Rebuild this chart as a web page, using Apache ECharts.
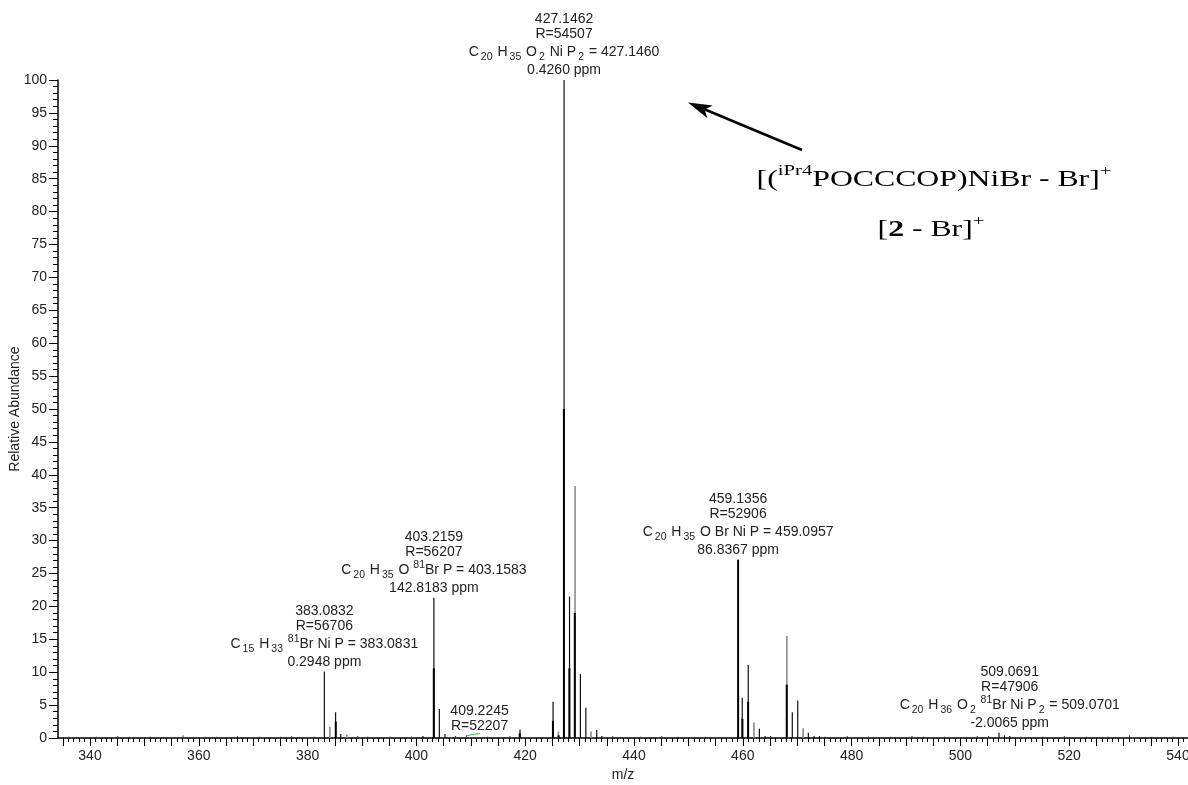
<!DOCTYPE html>
<html>
<head>
<meta charset="utf-8">
<script src="https://cdn.jsdelivr.net/npm/echarts@6/dist/echarts.min.js"></script>
<style>html,body{margin:0;padding:0;background:#fff}#c{width:1188px;height:785px}</style>
</head>
<body>
<div id="c"></div>
<script>
// ---------- data ----------
const xTickLabels = [340, 360, 380, 400, 420, 440, 460, 480, 500, 520, 540];
const yTickStep = 5;

// thin black sticks (m/z, relative abundance)
const thinMz = [383.08, 385.15, 386.1, 401.2, 403.22, 404.22, 405.25, 419.05, 425.12, 427.15, 428.15, 430.15, 431.15, 433.15, 434.1,
  459.9, 461.0, 463.05, 464.1, 465.1, 469.1, 470.1, 472.05, 473.1, 474.1, 507.1, 508.1, 509.07];
const thinVal = [10.1, 3.9, 0.6, 0.3, 21.3, 4.4, 0.6, 1.3, 5.5, 100, 21.5, 9.7, 4.6, 1.2, 0.3,
  6.1, 11.1, 1.4, 0.3, 0.3, 3.9, 5.7, 0.8, 0.3, 0.3, 0.8, 0.4, 0.3];

// thick black sticks
const thickMz = [385.18, 403.2, 419.0, 425.1, 426.15, 427.12, 428.12, 429.12, 459.14, 459.93, 460.98, 468.08];
const thickVal = [2.5, 10.6, 0.7, 2.6, 0.4, 50, 10.6, 19.0, 27.1, 2.9, 5.5, 8.1];

// gray sticks
const grayMz = [384.1, 387.2, 426.1, 429.17, 432.1, 462.05, 468.1, 471.1];
const grayVal = [1.7, 0.5, 1.0, 38.3, 1.0, 2.4, 15.5, 1.5];

// baseline noise sticks
const noiseMz = [336.1, 341.2, 345.1, 347.3, 351.0, 357.1, 361.2, 363.3, 367.1, 371.2, 375.0, 377.1, 381.2, 389.2, 391.1, 395.2,
  399.1, 407.2, 409.2, 413.1, 417.2, 436.1, 441.2, 445.1, 448.1, 453.2, 475.1, 479.2, 483.1, 487.2, 491.1, 493.2, 497.1,
  503.1, 505.2, 511.1, 515.2, 519.1, 523.2, 527.1, 531.1, 535.2, 539.1];
const noiseVal = [0.2, 0.2, 0.3, 0.2, 0.2, 0.4, 0.2, 0.2, 0.3, 0.2, 0.2, 0.3, 0.2, 0.3, 0.2, 0.2,
  0.2, 0.3, 0.4, 0.2, 0.3, 0.3, 0.2, 0.3, 0.2, 0.2, 0.2, 0.3, 0.2, 0.2, 0.3, 0.2, 0.2,
  0.3, 0.3, 0.2, 0.2, 0.3, 0.2, 0.2, 0.4, 0.2, 0.2];

// peak annotations
const annMz = [427.1462, 403.2159, 383.0832, 459.1356, 509.0691, 409.2245];
const annVal = [100, 21.3, 10.1, 27.1, 0.8, 0.4];
const annMass = ['427.1462', '403.2159', '383.0832', '459.1356', '509.0691', '409.2245'];
const annRes = ['R=54507', 'R=56207', 'R=56706', 'R=52906', 'R=47906', 'R=52207'];
const annFormula = [
  'C_{20} H_{35} O_{2} Ni P_{2} = 427.1460',
  'C_{20} H_{35} O ^{81}Br P = 403.1583',
  'C_{15} H_{33} ^{81}Br Ni P = 383.0831',
  'C_{20} H_{35} O Br Ni P = 459.0957',
  'C_{20} H_{36} O_{2} ^{81}Br Ni P_{2} = 509.0701',
  ''];
const annPpm = ['0.4260 ppm', '142.8183 ppm', '0.2948 ppm', '86.8367 ppm', '-2.0065 ppm', ''];

// ---------- build ----------
const FONT = '"Liberation Sans", Arial, sans-serif';
const SERIF = '"Liberation Serif", "Times New Roman", serif';
const xMin = 334.12, xMax = 541.84;

const majorTicks = [];
for (let v = 335; v <= 540; v += 5) majorTicks.push(v);
const minorTicks = [];
for (let v = 335; v <= 541; v += 1) minorTicks.push(v);

function pairs(ms, vs) { return ms.map((m, i) => [m, vs[i]]); }

function stickSeries(name, data, color, width) {
  return {
    name, type: 'custom', xAxisIndex: 0, yAxisIndex: 0, data,
    renderItem(params, api) {
      const p0 = api.coord([api.value(0), 0]);
      const p1 = api.coord([api.value(0), api.value(1)]);
      return { type: 'line', shape: { x1: p0[0], y1: p0[1], x2: p1[0], y2: p1[1] },
        style: { stroke: color, lineWidth: width } };
    },
    silent: true, z: 2
  };
}

function richify(s) {
  if (!s) return '';
  return s.split(/(_\{[^}]*\}|\^\{[^}]*\})/).filter(t => t.length).map(t => {
    if (t[0] === '_') return '{sub|' + t.slice(2, -1) + '}';
    if (t[0] === '^') return '{sup|' + t.slice(2, -1) + '}';
    return '{f|' + t + '}';
  }).join('');
}

const annData = annMz.map((m, i) => [m, annVal[i], i]);
const annShiftX = { 5: 13 };

const option = {
  animation: false,
  backgroundColor: '#fff',
  grid: { left: 58, right: 0, top: 80, bottom: 47, containLabel: false, outerBoundsMode: 'none' },
  xAxis: [{
    type: 'value', min: xMin, max: xMax,
    name: 'm/z', nameLocation: 'middle', nameGap: 30, nameMoveOverlap: false,
    nameTextStyle: { fontFamily: FONT, fontSize: 14, color: '#222' },
    axisLine: { show: true, onZero: false, lineStyle: { color: '#000', width: 1.5 } },
    axisTick: { show: true, length: 8, customValues: majorTicks, lineStyle: { color: '#000', width: 1 } },
    axisLabel: { customValues: xTickLabels, margin: 11, fontFamily: FONT, fontSize: 14, color: '#222' },
    splitLine: { show: false }
  }, {
    type: 'value', min: xMin, max: xMax, position: 'bottom', gridIndex: 0,
    axisLine: { show: false },
    axisTick: { show: true, length: 4, customValues: minorTicks, lineStyle: { color: '#000', width: 1 } },
    axisLabel: { show: false },
    splitLine: { show: false }
  }],
  yAxis: {
    type: 'value', min: 0, max: 100, interval: yTickStep,
    name: 'Relative Abundance', nameLocation: 'middle', nameGap: 36, nameMoveOverlap: false,
    nameTextStyle: { fontFamily: FONT, fontSize: 14, color: '#222' },
    axisLine: { show: true, lineStyle: { color: '#000', width: 1.5 } },
    axisTick: { show: true, length: 9, lineStyle: { color: '#000', width: 1 } },
    minorTick: { show: true, splitNumber: 5, length: 5, lineStyle: { color: '#000', width: 1 } },
    axisLabel: { margin: 11, fontFamily: FONT, fontSize: 14, color: '#222' },
    splitLine: { show: false }, minorSplitLine: { show: false }
  },
  series: [
    stickSeries('noise', pairs(noiseMz, noiseVal), '#333', 1),
    stickSeries('gray', pairs(grayMz, grayVal), '#8c8c8c', 1.6),
    stickSeries('thin', pairs(thinMz, thinVal), '#111', 1.2),
    stickSeries('thick', pairs(thickMz, thickVal), '#000', 2),
    {
      name: 'annotations', type: 'custom', data: annData, silent: true, z: 5,
      renderItem(params, api) {
        const i = params.dataIndex;
        const p = api.coord([api.value(0), api.value(1)]);
        const lines = ['{n|' + annMass[i] + '}', '{n|' + annRes[i] + '}'];
        if (annFormula[i]) lines.push(richify(annFormula[i]));
        if (annPpm[i]) lines.push('{n|' + annPpm[i] + '}');
        return {
          type: 'text', x: p[0] + (annShiftX[i] || 0), y: p[1] - 2,
          style: {
            text: lines.join('\n'), align: 'center', verticalAlign: 'bottom',
            fontFamily: FONT, fontSize: 14, fill: '#222',
            rich: {
              n: { fontFamily: FONT, fontSize: 14, lineHeight: 15, color: '#222' },
              f: { fontFamily: FONT, fontSize: 14, lineHeight: 21, color: '#222', verticalAlign: 'middle' },
              sub: { fontFamily: FONT, fontSize: 10.5, lineHeight: 13, color: '#222', verticalAlign: 'bottom', padding: [0, 1, 0, 2] },
              sup: { fontFamily: FONT, fontSize: 10.5, lineHeight: 13, color: '#222', verticalAlign: 'top' }
            }
          }
        };
      }
    }
  ],
  graphic: [
    { type: 'polyline', shape: { points: [[466, 736], [472, 734.5], [480, 733.5]] },
      style: { stroke: '#3cb043', lineWidth: 1, fill: null }, z: 4 },
    { type: 'line', shape: { x1: 802, y1: 150, x2: 705, y2: 109.5 },
      style: { stroke: '#000', lineWidth: 2.5 }, z: 10 },
    { type: 'polygon', shape: { points: [[688, 102.5], [712.8, 105.4], [704.6, 109.5], [707.4, 118.2]] },
      style: { fill: '#000' }, z: 10 },
    { type: 'text', x: 934, y: 180, scaleX: 1.38, scaleY: 1, z: 10,
      style: {
        text: '{t|[(}{s|iPr4}{t|POCCCOP)NiBr - Br]}{s|+}', align: 'center', verticalAlign: 'middle',
        fontFamily: SERIF, fontSize: 23, fill: '#000',
        rich: {
          t: { fontFamily: SERIF, fontSize: 23, lineHeight: 32, color: '#000', verticalAlign: 'middle' },
          s: { fontFamily: SERIF, fontSize: 15, lineHeight: 10, color: '#000', verticalAlign: 'top' }
        }
      } },
    { type: 'text', x: 931, y: 230, scaleX: 1.38, scaleY: 1, z: 10,
      style: {
        text: '{t|[}{b|2}{t| - Br]}{s|+}', align: 'center', verticalAlign: 'middle',
        fontFamily: SERIF, fontSize: 23, fill: '#000',
        rich: {
          t: { fontFamily: SERIF, fontSize: 23, lineHeight: 32, color: '#000', verticalAlign: 'middle' },
          b: { fontFamily: SERIF, fontSize: 23, fontWeight: 'bold', lineHeight: 32, color: '#000', verticalAlign: 'middle' },
          s: { fontFamily: SERIF, fontSize: 15, lineHeight: 10, color: '#000', verticalAlign: 'top' }
        }
      } }
  ]
};

const chart = echarts.init(document.getElementById('c'), null, { renderer: 'canvas' });
chart.setOption(option);
</script>
</body>
</html>
